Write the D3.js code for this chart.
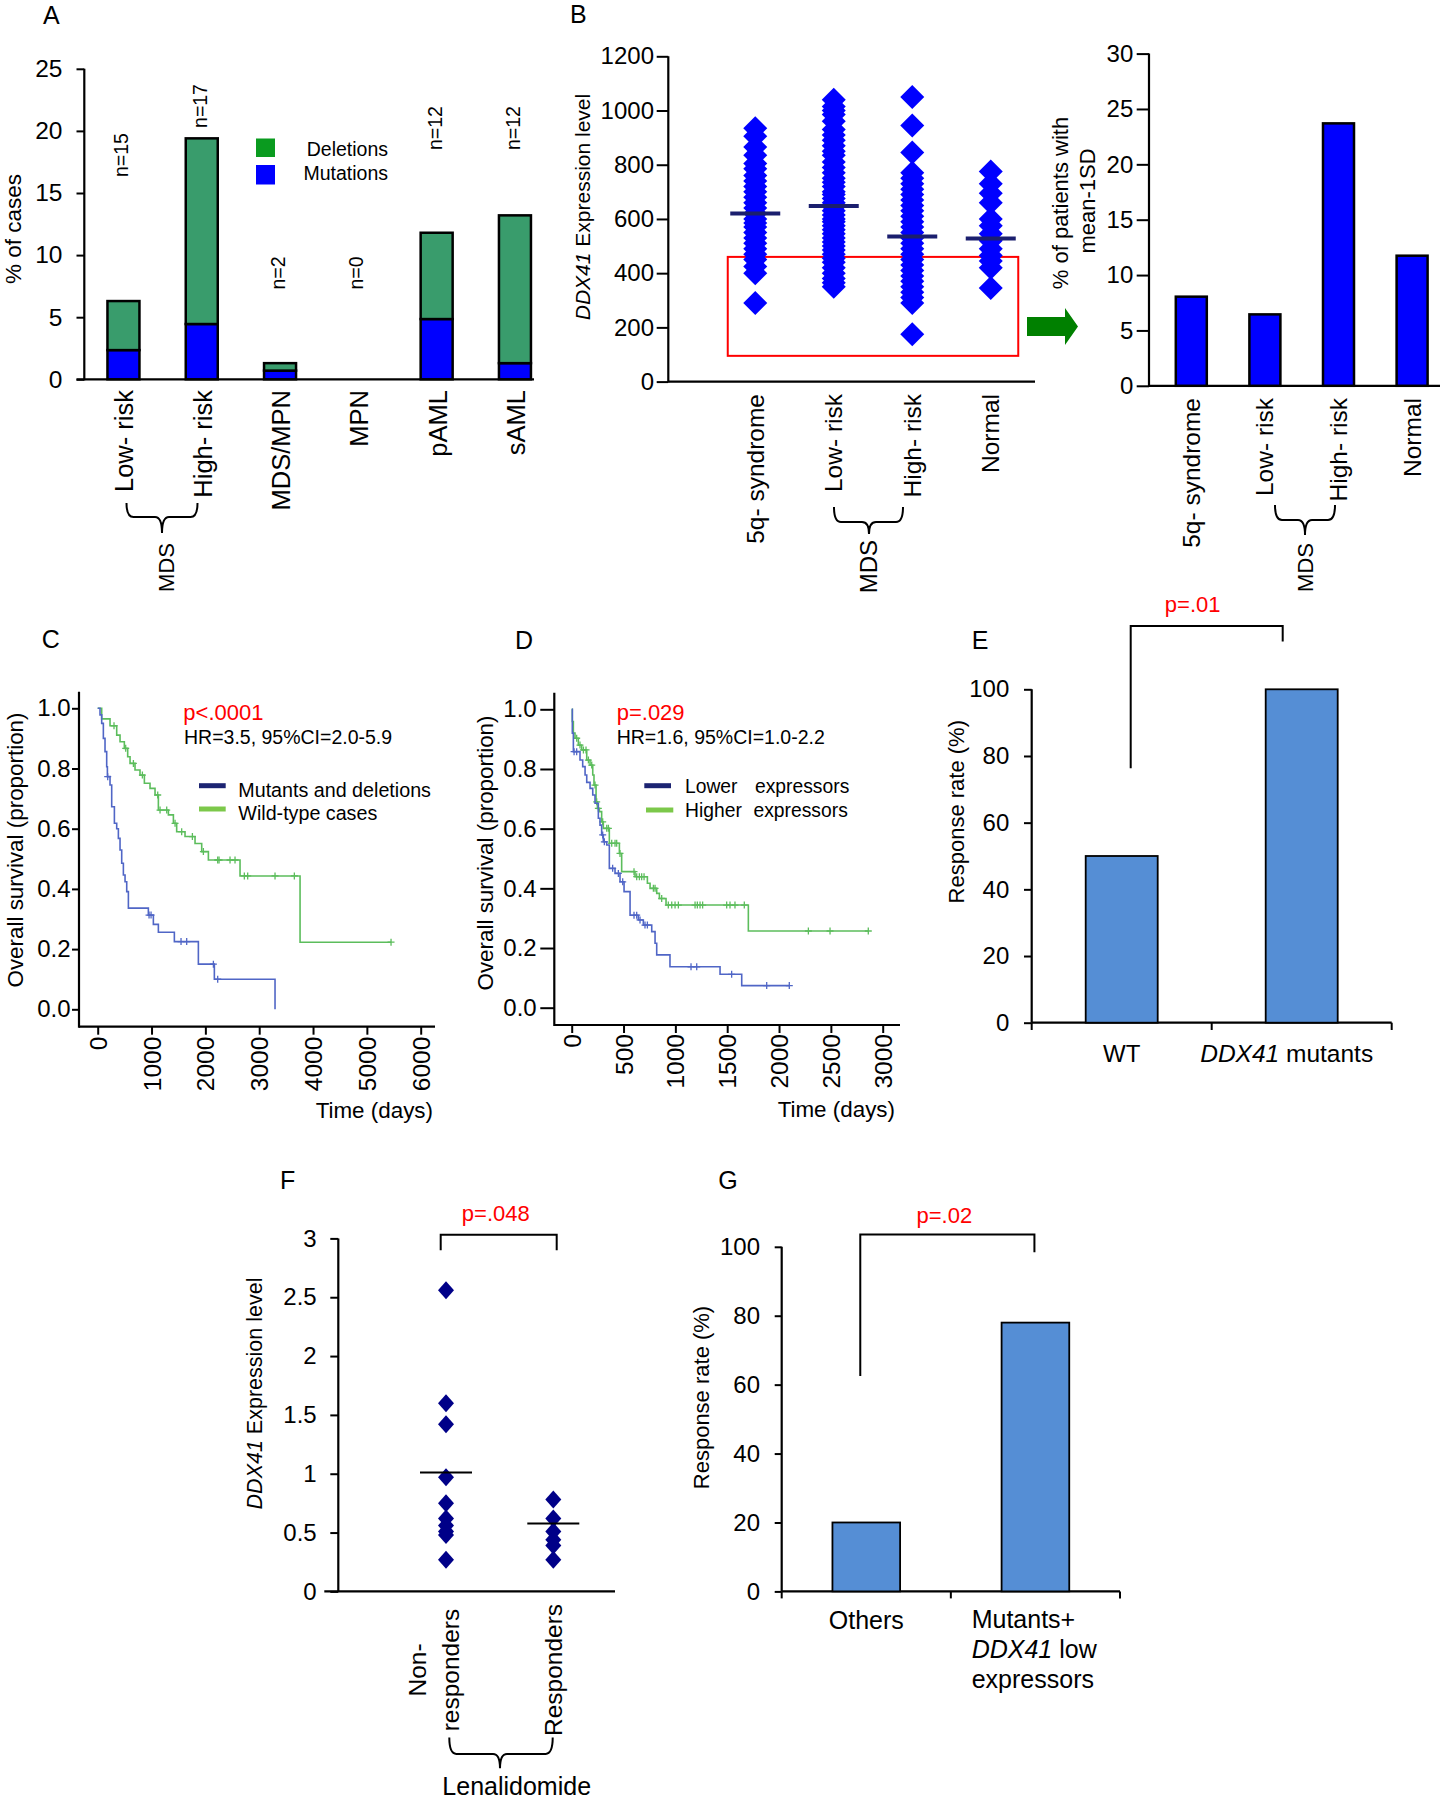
<!DOCTYPE html>
<html><head><meta charset="utf-8">
<script src="https://cdn.jsdelivr.net/npm/d3@7"></script>
<style>
body{margin:0;background:#fff;}
svg{display:block;font-family:"Liberation Sans",Arial,Helvetica,sans-serif;}
</style></head><body>
<svg id="fig" width="1440" height="1800"></svg>
<script>
// ================= DATA =================
// Panel A
const aCategories = ["Low- risk","High- risk","MDS/MPN","MPN","pAML","sAML"];
const aMutations  = [2.35, 4.45, 0.7, 0, 4.85, 1.3];
const aDeletions  = [3.95, 14.95, 0.6, 0, 6.95, 11.9];
const aCounts     = ["n=15","n=17","n=2","n=0","n=12","n=12"];
const aYTicks     = [0,5,10,15,20,25];
const aLegend     = ["Deletions","Mutations"];
// Panel B (left: expression scatter)
const bCategories = ["5q- syndrome","Low- risk","High- risk","Normal"];
const b5q     = [935,905,865,835,805,785,760,740,720,700,680,660,640,620,600,585,570,550,530,510,490,470,450,425,400,290];
const bLow    = [1040,1015,1000,985,960,930,910,890,870,850,835,810,790,770,750,735,720,700,690,675,660,645,630,615,600,590,575,560,545,530,515,500,485,470,455,440,420,400,380,365,350];
const bHigh   = [1050,945,845,770,750,730,710,690,670,650,630,610,590,570,550,530,510,490,470,450,430,410,390,370,350,330,310,290,175];
const bNormal = [775,730,695,660,600,575,545,520,490,465,445,420,345];
const bMeans  = [620, 648, 535, 528];
const bYTicks = [0,200,400,600,800,1000,1200];
const bBox    = [95, 460];
// Panel B (right: % below mean-1SD)
const b2Percent = [8.05, 6.45, 23.7, 11.75];
const b2YTicks  = [0,5,10,15,20,25,30];
// Panel C (KM: mutants/deletions vs wild-type)
const cXTicks = [0,1000,2000,3000,4000,5000,6000];
const cYTicks = [0,0.2,0.4,0.6,0.8,1.0];
const cMutTimes = [43,74,105,136,167,180,229,260,310,353,384,415,446,477,508,539,570,941,1034,1127,1424,1870,2167,3294];
const cMutSurv  = [0.978,0.95,0.90,0.856,0.806,0.773,0.745,0.673,0.618,0.60,0.568,0.529,0.485,0.446,0.424,0.391,0.336,0.313,0.282,0.256,0.225,0.15,0.10,0.0];
const cMutEnd = 3294;
const cMutCensor = [186,954,991,1548,1653,2149,2229];
const cWtTimes = [74,229,353,415,495,557,601,693,786,867,972,1065,1127,1313,1406,1467,1622,1808,1932,2056,2644,3759];
const cWtSurv  = [0.965,0.942,0.911,0.889,0.867,0.839,0.817,0.795,0.778,0.751,0.734,0.712,0.662,0.646,0.618,0.59,0.574,0.551,0.524,0.496,0.443,0.223];
const cWtEnd = 5449;
const cWtCensor = [303,520,663,830,1115,1158,1282,1437,1560,1759,1963,2229,2254,2458,2551,2724,2786,3294,3653,5449];
const cLegend = ["Mutants and deletions","Wild-type cases"];
// Panel D (KM: lower vs higher expressors)
const dXTicks = [0,500,1000,1500,2000,2500,3000];
const dYTicks = [0,0.2,0.4,0.6,0.8,1.0];
const dLowTimes = [6,16,80,106,129,145,177,203,225,257,273,289,305,338,363,418,466,505,563,643,691,772,804,820,948,1431,1640];
const dLowSurv  = [0.92,0.858,0.83,0.808,0.78,0.755,0.735,0.713,0.685,0.635,0.612,0.579,0.556,0.545,0.467,0.45,0.422,0.389,0.31,0.294,0.277,0.255,0.216,0.177,0.137,0.112,0.074];
const dLowEnd = 2099;
const dLowCensor = [23,48,299,315,395,450,492,601,627,659,707,730,1151,1206,1543,1881,2099];
const dHighTimes = [6,16,32,64,96,145,177,203,215,235,248,267,289,305,363,460,482,611,730,756,820,846,910,1704];
const dHighSurv  = [0.959,0.92,0.903,0.88,0.864,0.83,0.813,0.78,0.746,0.69,0.668,0.657,0.623,0.601,0.551,0.517,0.456,0.439,0.417,0.40,0.383,0.366,0.344,0.257];
const dHighEnd = 2861;
const dHighCensor = [48,80,113,138,161,193,225,241,257,299,338,354,386,418,434,466,601,627,653,675,698,788,804,868,932,965,997,1029,1190,1212,1238,1263,1495,1527,1575,1665,2283,2492,2861];
// Panel E
const eCategories = ["WT","DDX41 mutants"];
const eValues = [50, 100];
const eYTicks = [0,20,40,60,80,100];
const eBracket = [76.3, 119, 114.3];
// Panel F
const fCategories = ["Non-responders","Responders"];
const fNonResp = [2.56,1.60,1.42,0.97,0.75,0.62,0.56,0.51,0.48,0.27];
const fResp    = [0.78,0.62,0.51,0.44,0.39,0.27];
const fMeans   = [1.01, 0.578];
const fYTicks  = [0,0.5,1,1.5,2,2.5,3];
const fBracket = [2.90, 3.03];
// Panel G
const gCategories = ["Others","Mutants+ DDX41 low expressors"];
const gValues = [20, 78];
const gYTicks = [0,20,40,60,80,100];
const gBracket = [62.5, 103.6, 98.4];

// ================= HELPERS =================
const FONT = '"Liberation Sans", Arial, Helvetica, sans-serif';
const svg = d3.select("#fig");

function txt(g, x, y, s, size, o = {}) {
  const t = g.append("text").attr("x", x).attr("y", y).attr("font-size", size)
    .attr("fill", o.fill || "#000").attr("font-family", FONT);
  if (o.anchor) t.attr("text-anchor", o.anchor);
  if (o.baseline) t.attr("dominant-baseline", o.baseline);
  if (o.rotate) t.attr("transform", `rotate(-90,${x},${y})`);
  if (o.parts) {
    o.parts.forEach(p => { const ts = t.append("tspan").text(p.t); if (p.i) ts.attr("font-style", "italic"); });
  } else t.text(s);
  return t;
}
function line(g, x1, y1, x2, y2, w = 2, c = "#000") {
  return g.append("line").attr("x1", x1).attr("y1", y1).attr("x2", x2).attr("y2", y2)
    .attr("stroke", c).attr("stroke-width", w);
}
function leftAxis(g, scale, ticks, x, tickLen, pad, size, fmt) {
  const ax = d3.axisLeft(scale).tickValues(ticks).tickSize(tickLen).tickSizeOuter(0).tickPadding(pad)
    .tickFormat(fmt || d3.format("d"));
  const a = g.append("g").attr("transform", `translate(${x},0)`).call(ax);
  a.attr("font-family", FONT).attr("font-size", size);
  a.select(".domain").remove();
  a.selectAll(".tick line").attr("stroke", "#000").attr("stroke-width", 2);
  a.selectAll(".tick text").attr("fill", "#000");
  return a;
}
function bottomAxisRot(g, scale, ticks, y, tickLen, off, size) {
  const ax = d3.axisBottom(scale).tickValues(ticks).tickSize(tickLen).tickSizeOuter(0).tickFormat(d3.format("d"));
  const a = g.append("g").attr("transform", `translate(0,${y})`).call(ax);
  a.attr("font-family", FONT).attr("font-size", size);
  a.select(".domain").remove();
  a.selectAll(".tick line").attr("stroke", "#000").attr("stroke-width", 2);
  a.selectAll(".tick text").attr("fill", "#000").attr("transform", "rotate(-90)")
    .attr("x", -off).attr("y", 0).attr("dy", "0.35em").attr("text-anchor", "end");
  return a;
}
function brace(g, x1, x2, cx, y0, y1, y2) {
  const r = 7;
  g.append("path").attr("fill", "none").attr("stroke", "#000").attr("stroke-width", 2)
    .attr("d", `M${x1},${y0} Q${x1},${y1} ${x1 + r},${y1} L${cx - r},${y1} Q${cx},${y1} ${cx},${y2} Q${cx},${y1} ${cx + r},${y1} L${x2 - r},${y1} Q${x2},${y1} ${x2},${y0}`);
}
function diamond(g, x, y, w, h, fill) {
  g.append("path").attr("d", `M${x},${y - h} L${x + w},${y} L${x},${y + h} L${x - w},${y} Z`).attr("fill", fill);
}
function survAt(times, surv, t) { const i = d3.bisectRight(times, t); return i === 0 ? 1 : surv[i - 1]; }
function kmCurve(g, xs, ys, times, surv, end, censor, color) {
  const pts = [[0, 1]].concat(times.map((t, i) => [t, surv[i]]));
  pts.push([end, surv[surv.length - 1]]);
  const ln = d3.line().x(d => xs(d[0])).y(d => ys(d[1])).curve(d3.curveStepAfter);
  g.append("path").attr("d", ln(pts)).attr("fill", "none").attr("stroke", color).attr("stroke-width", 1.6);
  censor.forEach(t => {
    const cx = xs(t), cy = ys(survAt(times, surv, t));
    g.append("path").attr("d", `M${cx - 3.5},${cy} H${cx + 3.5} M${cx},${cy - 3.5} V${cy + 3.5}`)
      .attr("stroke", color).attr("stroke-width", 1.3);
  });
}

// ================= PANEL A =================
{
  const g = svg.append("g");
  const y = d3.scaleLinear().domain([0, 25]).range([379.3, 68.8]);
  const x = d3.scalePoint().domain(aCategories).range([84.3, 554.1]).padding(0.5);
  const bw = 32;
  leftAxis(g, y, aYTicks, 84.3, 7.8, 14, 24.5);
  line(g, 84.3, y(25), 84.3, y(0) + 1, 2.2);
  line(g, 76.5, y(0), 534, y(0), 2.2);
  aCategories.forEach((c, i) => {
    const cx = x(c), m = aMutations[i], d = aDeletions[i];
    if (m > 0) g.append("rect").attr("x", cx - bw / 2).attr("y", y(m)).attr("width", bw).attr("height", y(0) - y(m))
      .attr("fill", "#0000ff").attr("stroke", "#000").attr("stroke-width", 2.5);
    if (d > 0) g.append("rect").attr("x", cx - bw / 2).attr("y", y(m + d)).attr("width", bw).attr("height", y(m) - y(m + d))
      .attr("fill", "#399c6c").attr("stroke", "#000").attr("stroke-width", 2.5);
  });
  const countY = [155, 106, 273, 273, 128, 128];
  aCategories.forEach((c, i) => txt(g, x(c) - 2, countY[i], aCounts[i], 19.5, { anchor: "middle", baseline: "central", rotate: true }));
  aCategories.forEach(c => txt(g, x(c) + 1, 390, c, 25.5, { anchor: "end", baseline: "central", rotate: true }));
  // legend
  g.append("rect").attr("x", 256).attr("y", 138.5).attr("width", 19).attr("height", 18.5).attr("fill", "#0a9b1f");
  g.append("rect").attr("x", 256).attr("y", 165).attr("width", 19).attr("height", 19.5).attr("fill", "#0000ff");
  txt(g, 388, 156, aLegend[0], 19.5, { anchor: "end" });
  txt(g, 388, 180, aLegend[1], 19.5, { anchor: "end" });
  txt(g, 13, 229, "% of cases", 22.5, { anchor: "middle", baseline: "central", rotate: true });
  brace(g, 126.5, 197.5, 162, 503, 517, 533);
  txt(g, 166.5, 543, "MDS", 22, { anchor: "end", baseline: "central", rotate: true });
  txt(g, 43, 24, "A", 25);
}

// ================= PANEL B (left) =================
{
  const g = svg.append("g");
  const y = d3.scaleLinear().domain([0, 1200]).range([381.6, 56.3]);
  const x = d3.scalePoint().domain(bCategories).range([716, 1030]).padding(0.5);
  leftAxis(g, y, bYTicks, 668.3, 11.6, 2.7, 24);
  line(g, 668.3, y(1200), 668.3, y(0) + 1, 2.2);
  line(g, 668.3, y(0), 1035, y(0), 2.2);
  const first = x(bCategories[0]), last = x(bCategories[bCategories.length - 1]);
  g.append("rect").attr("x", first - 27.5).attr("y", y(bBox[1])).attr("width", last - first + 55)
    .attr("height", y(bBox[0]) - y(bBox[1])).attr("fill", "none").attr("stroke", "#ff0000").attr("stroke-width", 2);
  [b5q, bLow, bHigh, bNormal].forEach((arr, i) => {
    const cx = x(bCategories[i]);
    arr.forEach(v => diamond(g, cx, y(v), 12, 12, "#0000ff"));
  });
  bMeans.forEach((m, i) => {
    const cx = x(bCategories[i]);
    line(g, cx - 25, y(m), cx + 25, y(m), 4, "#1b1f6e");
  });
  txt(g, 581.7, 207, null, 21, { anchor: "middle", baseline: "central", rotate: true, parts: [{ t: "DDX41", i: true }, { t: " Expression level" }] });
  bCategories.forEach(c => txt(g, x(c), 394, c, 24.5, { anchor: "end", baseline: "central", rotate: true }));
  brace(g, 834, 903, 869, 507, 522, 534);
  txt(g, 868, 540, "MDS", 24, { anchor: "end", baseline: "central", rotate: true });
  txt(g, 570, 23, "B", 25);
  // arrow
  g.append("path").attr("d", "M1027,317 L1065,317 L1065,308 L1078,326.5 L1065,345 L1065,336 L1027,336 Z").attr("fill", "#008000");
}

// ================= PANEL B (right) =================
{
  const g = svg.append("g");
  const y = d3.scaleLinear().domain([0, 30]).range([385.8, 53.6]);
  const x = d3.scalePoint().domain(bCategories).range([1154.5, 1448.9]).padding(0.5);
  const bw = 31;
  leftAxis(g, y, b2YTicks, 1149, 12.3, 3.4, 24);
  line(g, 1149, y(30), 1149, y(0) + 1, 2.2);
  line(g, 1149, y(0), 1440, y(0), 2.2);
  bCategories.forEach((c, i) => {
    g.append("rect").attr("x", x(c) - bw / 2).attr("y", y(b2Percent[i])).attr("width", bw)
      .attr("height", y(0) - y(b2Percent[i])).attr("fill", "#0000ff").attr("stroke", "#000").attr("stroke-width", 2.5);
  });
  txt(g, 1060, 203, "% of patients with", 22, { anchor: "middle", baseline: "central", rotate: true });
  txt(g, 1087, 201, "mean-1SD", 22, { anchor: "middle", baseline: "central", rotate: true });
  bCategories.forEach(c => txt(g, x(c), 398, c, 24.5, { anchor: "end", baseline: "central", rotate: true }));
  brace(g, 1275, 1335, 1305, 505, 520, 535);
  txt(g, 1305, 543, "MDS", 22, { anchor: "end", baseline: "central", rotate: true });
}

// ================= PANEL C =================
{
  const g = svg.append("g");
  const x = d3.scaleLinear().domain([0, 6000]).range([97.7, 420.7]);
  const y = d3.scaleLinear().domain([0, 1]).range([1009.3, 708.3]);
  leftAxis(g, y, cYTicks, 79, 7, 1.5, 24, d3.format(".1f"));
  bottomAxisRot(g, x, cXTicks, 1026.7, 8, 10, 24.5);
  line(g, 79, 691.7, 79, 1027.7, 2.2);
  line(g, 79, 1026.7, 435, 1026.7, 2.2);
  kmCurve(g, x, y, cWtTimes, cWtSurv, cWtEnd, cWtCensor, "#5cbd5c");
  kmCurve(g, x, y, cMutTimes, cMutSurv, cMutEnd, cMutCensor, "#5066c6");
  txt(g, 433, 1118, "Time (days)", 22.4, { anchor: "end" });
  txt(g, 15, 850, "Overall survival (proportion)", 22.4, { anchor: "middle", baseline: "central", rotate: true });
  txt(g, 41.7, 648, "C", 25);
  txt(g, 183.3, 720, "p<.0001", 22, { fill: "#ff0000" });
  txt(g, 184, 744, "HR=3.5, 95%CI=2.0-5.9", 19.5);
  line(g, 199, 785.7, 225.7, 785.7, 5, "#1c2472");
  line(g, 199, 809, 225.7, 809, 5, "#7cc84a");
  txt(g, 238.3, 796.7, cLegend[0], 19.7);
  txt(g, 238.3, 820, cLegend[1], 19.7);
}

// ================= PANEL D =================
{
  const g = svg.append("g");
  const x = d3.scaleLinear().domain([0, 3000]).range([571.7, 882.7]);
  const y = d3.scaleLinear().domain([0, 1]).range([1007.7, 709.3]);
  leftAxis(g, y, dYTicks, 554.3, 14, 3.6, 24, d3.format(".1f"));
  bottomAxisRot(g, x, dXTicks, 1025, 8, 9, 24.5);
  line(g, 554.3, 692.7, 554.3, 1026, 2.2);
  line(g, 554.3, 1025, 900, 1025, 2.2);
  kmCurve(g, x, y, dHighTimes, dHighSurv, dHighEnd, dHighCensor, "#5cbd5c");
  kmCurve(g, x, y, dLowTimes, dLowSurv, dLowEnd, dLowCensor, "#5066c6");
  txt(g, 895, 1116.7, "Time (days)", 22.4, { anchor: "end" });
  txt(g, 485, 853, "Overall survival (proportion)", 22.4, { anchor: "middle", baseline: "central", rotate: true });
  txt(g, 515, 649.3, "D", 25);
  txt(g, 616.7, 720, "p=.029", 22, { fill: "#ff0000" });
  txt(g, 616.7, 744, "HR=1.6, 95%CI=1.0-2.2", 19.5);
  line(g, 644.3, 785.7, 671, 785.7, 5, "#1c2472");
  line(g, 646, 810, 673.3, 810, 5, "#7cc84a");
  txt(g, 685, 793.3, "Lower", 19.3);
  txt(g, 755, 793.3, "expressors", 19.3);
  txt(g, 685, 816.7, "Higher", 19.3);
  txt(g, 753.5, 816.7, "expressors", 19.3);
}

// ================= PANEL E =================
{
  const g = svg.append("g");
  const y = d3.scaleLinear().domain([0, 100]).range([1022.7, 689.3]);
  const x = d3.scaleBand().domain(eCategories).range([1031.7, 1391.7]).paddingInner(0.6).paddingOuter(0.3);
  const bw = x.bandwidth();
  leftAxis(g, y, eYTicks, 1031.7, 7.7, 14.7, 24);
  line(g, 1031.7, y(100), 1031.7, y(0), 2.2);
  line(g, 1031.7, y(0), 1391.7, y(0), 2.2);
  [0, 1, 2].forEach(k => { const tx = 1031.7 + k * x.step(); line(g, tx, y(0), tx, y(0) + 7.3, 2); });
  eCategories.forEach((c, i) => {
    g.append("rect").attr("x", x(c)).attr("y", y(eValues[i])).attr("width", bw).attr("height", y(0) - y(eValues[i]))
      .attr("fill", "#558ed5").attr("stroke", "#000").attr("stroke-width", 1.8);
  });
  const lx = x(eCategories[0]) + bw / 2 + 9, rx = x(eCategories[1]) + bw / 2 - 19;
  g.append("path").attr("d", `M${lx},${y(eBracket[0])} V${y(eBracket[1])} H${rx} V${y(eBracket[2])}`)
    .attr("fill", "none").attr("stroke", "#000").attr("stroke-width", 2);
  txt(g, (lx + rx) / 2 - 14, 611.7, "p=.01", 22, { anchor: "middle", fill: "#ff0000" });
  txt(g, 971.7, 649, "E", 25);
  txt(g, 956.7, 811.7, "Response rate (%)", 22, { anchor: "middle", baseline: "central", rotate: true });
  txt(g, x(eCategories[0]) + bw / 2, 1061.7, "WT", 24, { anchor: "middle" });
  txt(g, x(eCategories[1]) + bw / 2 - 15, 1061.7, null, 24.5, { anchor: "middle", parts: [{ t: "DDX41", i: true }, { t: " mutants" }] });
}

// ================= PANEL F =================
{
  const g = svg.append("g");
  const y = d3.scaleLinear().domain([0, 3]).range([1591.4, 1238.4]);
  const x = d3.scalePoint().domain(fCategories).range([446, 553.3]);
  leftAxis(g, y, fYTicks, 338.3, 8, 13.6, 24, d => d3.format("~g")(d));
  line(g, 338.3, y(3), 338.3, y(0), 2.2);
  line(g, 324.3, y(0), 615, y(0), 2.2);
  [fNonResp, fResp].forEach((arr, i) => {
    const cx = x(fCategories[i]);
    arr.forEach(v => diamond(g, cx, y(v), 8, 9, "#000088"));
    line(g, cx - 26, y(fMeans[i]), cx + 26, y(fMeans[i]), 2, "#000");
  });
  g.append("path").attr("d", `M440.7,${y(fBracket[0])} V${y(fBracket[1])} H556.7 V${y(fBracket[0])}`)
    .attr("fill", "none").attr("stroke", "#000").attr("stroke-width", 2);
  txt(g, 495.8, 1221.2, "p=.048", 22, { anchor: "middle", fill: "#ff0000" });
  txt(g, 280, 1188.6, "F", 25);
  txt(g, 255, 1393.5, null, 21.5, { anchor: "middle", baseline: "central", rotate: true, parts: [{ t: "DDX41", i: true }, { t: " Expression level" }] });
  txt(g, x(fCategories[0]) - 29, 1670, "Non-", 24.5, { anchor: "middle", baseline: "central", rotate: true });
  txt(g, x(fCategories[0]) + 4, 1670, "responders", 24.5, { anchor: "middle", baseline: "central", rotate: true });
  txt(g, x(fCategories[1]), 1670, "Responders", 24.5, { anchor: "middle", baseline: "central", rotate: true });
  brace(g, 449.3, 552.7, 500, 1737.6, 1753.9, 1768.2);
  txt(g, 516.7, 1795, "Lenalidomide", 25, { anchor: "middle" });
}

// ================= PANEL G =================
{
  const g = svg.append("g");
  const y = d3.scaleLinear().domain([0, 100]).range([1591.4, 1246.8]);
  const x = d3.scaleBand().domain(gCategories).range([781.7, 1120]).paddingInner(0.6).paddingOuter(0.3);
  const bw = x.bandwidth();
  leftAxis(g, y, gYTicks, 781.7, 7, 14.7, 24);
  line(g, 781.7, y(100), 781.7, y(0), 2.2);
  line(g, 781.7, y(0), 1120, y(0), 2.2);
  [0, 1, 2].forEach(k => { const tx = 781.7 + k * x.step(); line(g, tx, y(0), tx, y(0) + 7, 2); });
  gCategories.forEach((c, i) => {
    g.append("rect").attr("x", x(c)).attr("y", y(gValues[i])).attr("width", bw).attr("height", y(0) - y(gValues[i]))
      .attr("fill", "#558ed5").attr("stroke", "#000").attr("stroke-width", 1.8);
  });
  const lx = x(gCategories[0]) + bw / 2 - 6, rx = x(gCategories[1]) + bw / 2 - 1;
  g.append("path").attr("d", `M${lx},${y(gBracket[0])} V${y(gBracket[1])} H${rx} V${y(gBracket[2])}`)
    .attr("fill", "none").attr("stroke", "#000").attr("stroke-width", 2);
  txt(g, (lx + rx) / 2 - 3, 1222.5, "p=.02", 22, { anchor: "middle", fill: "#ff0000" });
  txt(g, 718.3, 1188.6, "G", 25);
  txt(g, 701.7, 1397.5, "Response rate (%)", 22, { anchor: "middle", baseline: "central", rotate: true });
  txt(g, x(gCategories[0]) + bw / 2, 1628.6, "Others", 25, { anchor: "middle" });
  txt(g, 971.7, 1627.9, "Mutants+", 25);
  txt(g, 971.7, 1658.2, null, 25, { parts: [{ t: "DDX41", i: true }, { t: " low" }] });
  txt(g, 971.7, 1687.9, "expressors", 25);
}
</script>
</body></html>
